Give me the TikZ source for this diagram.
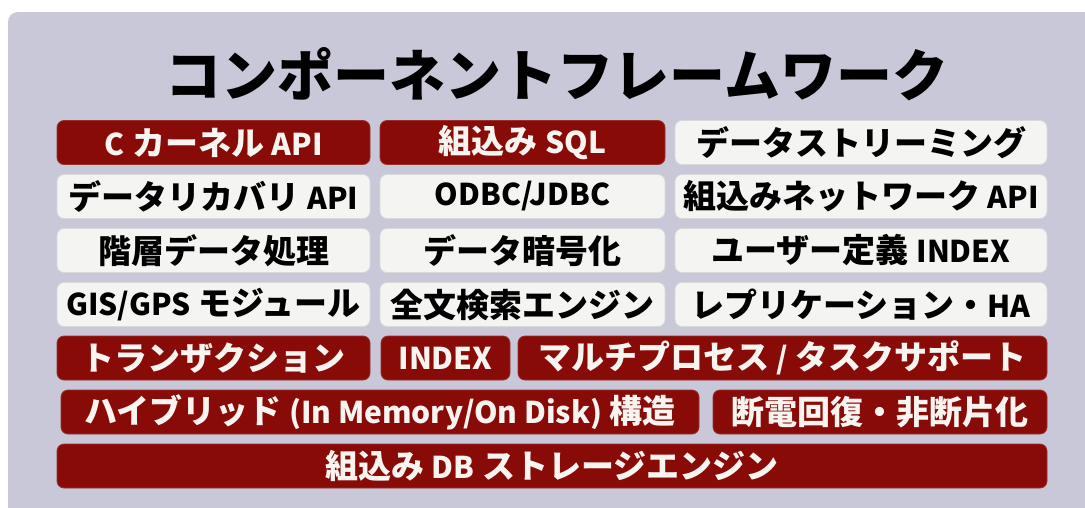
\documentclass[tikz,border=0pt]{standalone}
\usepackage{fontspec}
\newfontfamily\jp{Noto Sans CJK JP}
\definecolor{panel}{HTML}{C8C8D8}
\definecolor{dred}{HTML}{880B08}
\definecolor{light}{HTML}{F4F4F2}
\definecolor{redtxt}{HTML}{F8F4F0}
\newcommand\lat[1]{{\fontsize{30}{30}\selectfont #1}}
\tikzset{
  box/.style={rounded corners=7pt, minimum height=44pt, inner sep=0pt, line width=0.8pt,
    font=\jp\bfseries\fontsize{33}{33}\selectfont},
  redbox/.style={box, fill=dred, draw=dred!85!white, text=redtxt},
  lightbox/.style={box, fill=light, draw=white!85!black, text=black},
}
\begin{document}
\begin{tikzpicture}[x=1pt,y=-1pt]
\useasboundingbox (0,0) rectangle (1085,507);
\fill[white] (0,0) rectangle (1085,507);
\fill[panel, rounded corners=10pt] (8,12) rectangle (1110,540);
\node[font=\jp\bfseries\fontsize{56}{56}\selectfont, text=black] (title) at (557,74) {コンポーネントフレームワーク};
% row 1
\node[redbox, minimum width=313pt] (r1a) at (213.5,142.5) {\lat{C} カーネル \lat{API}};
\node[redbox, minimum width=285pt] (r1b) at (522.5,142.5) {組込み \lat{SQL}};
\node[lightbox, minimum width=372pt] (r1c) at (861,142.5) {データストリーミング};
% row 2
\node[lightbox, minimum width=313pt] (r2a) at (213.5,196.5) {データリカバリ \lat{API}};
\node[lightbox, minimum width=285pt] (r2b) at (522.5,196.5) {\lat{ODBC/JDBC}};
\node[lightbox, minimum width=372pt] (r2c) at (861,196.5) {組込みネットワーク \lat{API}};
% row 3
\node[lightbox, minimum width=313pt] (r3a) at (213.5,250.5) {階層データ処理};
\node[lightbox, minimum width=285pt] (r3b) at (522.5,250.5) {データ暗号化};
\node[lightbox, minimum width=372pt] (r3c) at (861,250.5) {ユーザー定義 \lat{INDEX}};
% row 4
\node[lightbox, minimum width=313pt] (r4a) at (213.5,304.5) {\lat{GIS/GPS} モジュール};
\node[lightbox, minimum width=285pt] (r4b) at (522.5,304.5) {全文検索エンジン};
\node[lightbox, minimum width=372pt] (r4c) at (861,304.5) {レプリケーション・\lat{HA}};
% row 5
\node[redbox, minimum width=313pt] (r5a) at (213.5,358) {トランザクション};
\node[redbox, minimum width=129pt] (r5b) at (445.5,358) {\lat{INDEX}};
\node[redbox, minimum width=529pt] (r5c) at (782.5,358) {マルチプロセス \lat{/} タスクサポート};
% row 6
\node[redbox, minimum width=638pt] (r6a) at (380,412) {ハイブリッド \lat{(In Memory/On Disk)} 構造};
\node[redbox, minimum width=334pt] (r6b) at (880,412) {断電回復・非断片化};
% row 7
\node[redbox, minimum width=990pt] (r7) at (552,466) {組込み \lat{DB} ストレージエンジン};
\end{tikzpicture}
\end{document}
